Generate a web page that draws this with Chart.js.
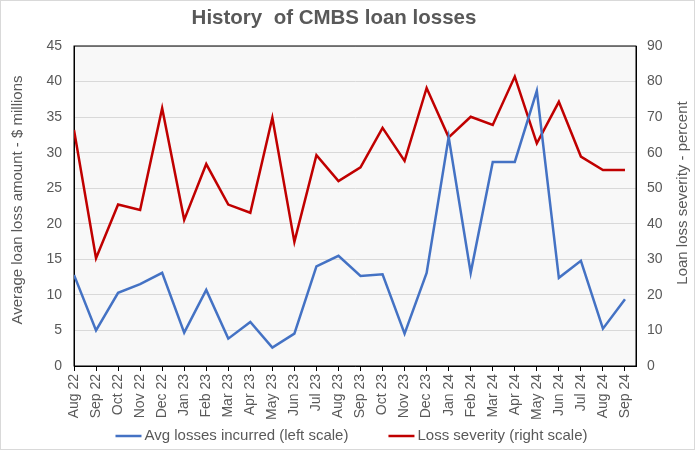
<!DOCTYPE html>
<html lang="en">
<head>
    <meta charset="UTF-8">
    <title>History of CMBS loan losses</title>
    <script src="https://cdn.jsdelivr.net/npm/chart.js@4.4.1/dist/chart.umd.min.js"></script>
    <style>
        body { margin: 0; background: #fff; }
        #wrap { width: 695px; height: 450px; }
    </style>
</head>
<body>
    <div id="wrap">
        <canvas id="loss-chart" width="695" height="450"></canvas>
    </div>

    <script>
        var months = ['Aug 22', 'Sep 22', 'Oct 22', 'Nov 22', 'Dec 22', 'Jan 23', 'Feb 23', 'Mar 23', 'Apr 23',
            'May 23', 'Jun 23', 'Jul 23', 'Aug 23', 'Sep 23', 'Oct 23', 'Nov 23', 'Dec 23', 'Jan 24',
            'Feb 24', 'Mar 24', 'Apr 24', 'May 24', 'Jun 24', 'Jul 24', 'Aug 24', 'Sep 24'];

        // $ millions, left scale
        var avgLosses = [12.8, 5.0, 10.3, 11.5, 13.1, 4.7, 10.7, 3.85, 6.2, 2.6, 4.55, 14.0, 15.5,
            12.65, 12.9, 4.55, 13.1, 32.2, 13.1, 28.7, 28.7, 38.7, 12.4, 14.8, 5.25, 9.4];

        // percent, right scale
        var severity = [66.4, 30.3, 45.4, 43.9, 72.5, 41.1, 56.8, 45.4, 43.1, 69.8, 34.9, 59.3, 52.0,
            55.9, 67.0, 57.7, 78.2, 64.3, 70.1, 67.8, 81.4, 62.6, 74.3, 58.9, 55.1, 55.1];

        var leftTicks = [0, 5, 10, 15, 20, 25, 30, 35, 40, 45];
        var rightTicks = [0, 10, 20, 30, 40, 50, 60, 70, 80, 90];

        var chartTitle = 'History  of CMBS loan losses';
        var leftTitle = 'Average loan loss amount - $ millions';
        var rightTitle = 'Loan loss severity - percent';

        function toPoints(arr) {
            return arr.map(function (v, i) { return { x: i, y: v }; });
        }

        var grey = '#595959';
        var font = 'Arial, "Liberation Sans", sans-serif';

        // plot background, outer frame, black box round the plot, titles, legend
        var framePlugin = {
            id: 'frame',
            beforeDraw: function (chart) {
                var c = chart.ctx, a = chart.chartArea;
                c.save();
                c.fillStyle = '#fff';
                c.fillRect(0, 0, chart.width, chart.height);
                c.fillStyle = '#f8f8f8';
                c.fillRect(a.left, a.top, a.right - a.left, a.bottom - a.top);
                c.strokeStyle = '#d9d9d9';
                c.lineWidth = 1;
                c.strokeRect(0.5, 0.5, chart.width - 1, chart.height - 1);
                c.restore();
            },
            beforeDatasetsDraw: function (chart) {
                var c = chart.ctx, a = chart.chartArea;
                c.save();
                c.strokeStyle = '#000';
                c.lineWidth = 1;
                c.strokeRect(a.left, a.top, a.right - a.left, a.bottom - a.top);
                c.restore();
            },
            afterDraw: function (chart) {
                var c = chart.ctx;
                c.save();
                c.fillStyle = grey;
                c.textAlign = 'center';
                c.textBaseline = 'middle';

                c.font = 'bold 20.5px ' + font;
                c.fillText(chartTitle, 334, 18);

                c.font = '15px ' + font;
                c.translate(18, 200);
                c.rotate(-Math.PI / 2);
                c.fillText(leftTitle, 0, 0);
                c.restore();

                c.save();
                c.fillStyle = grey;
                c.textAlign = 'center';
                c.textBaseline = 'middle';
                c.font = '15px ' + font;
                c.translate(683, 193);
                c.rotate(-Math.PI / 2);
                c.fillText(rightTitle, 0, 0);
                c.restore();

                // legend
                c.save();
                c.font = '15px ' + font;
                c.textAlign = 'left';
                c.textBaseline = 'middle';
                var sets = chart.data.datasets;
                var lineW = 26, gapText = 3, gapItem = 40;
                var total = 0;
                sets.forEach(function (d, i) {
                    total += lineW + gapText + c.measureText(d.label).width;
                    if (i > 0) total += gapItem;
                });
                var x = 351.5 - total / 2, y = 436;
                sets.forEach(function (d) {
                    c.strokeStyle = d.borderColor;
                    c.lineWidth = d.borderWidth;
                    c.beginPath();
                    c.moveTo(x, y);
                    c.lineTo(x + lineW, y);
                    c.stroke();
                    x += lineW + gapText;
                    c.fillStyle = grey;
                    c.fillText(d.label, x, y);
                    x += c.measureText(d.label).width + gapItem;
                });
                c.restore();
            }
        };

        var ctx = document.getElementById('loss-chart').getContext('2d');
        var chart = new Chart(ctx, {
            type: 'line',
            data: {
                datasets: [{
                    label: 'Avg losses incurred (left scale)',
                    data: toPoints(avgLosses),
                    borderColor: '#4472c4',
                    backgroundColor: '#4472c4',
                    borderWidth: 2.5,
                    pointRadius: 0,
                    yAxisID: 'y'
                }, {
                    label: 'Loss severity (right scale)',
                    data: toPoints(severity),
                    borderColor: '#c00000',
                    backgroundColor: '#c00000',
                    borderWidth: 2.5,
                    pointRadius: 0,
                    yAxisID: 'y2'
                }]
            },
            plugins: [framePlugin],
            options: {
                responsive: false,
                animation: false,
                devicePixelRatio: 1,
                layout: { padding: { left: 0, right: 0, top: 46, bottom: 0 } },
                plugins: {
                    title: { display: false },
                    legend: { display: false },
                    tooltip: { enabled: false }
                },
                scales: {
                    x: {
                        type: 'linear',
                        min: 0,
                        max: months.length - 0.5,
                        afterFit: function (s) { s.height = 84; },
                        afterBuildTicks: function (s) {
                            s.ticks = months.map(function (m, i) { return { value: i }; });
                        },
                        ticks: {
                            autoSkip: false,
                            maxRotation: 90,
                            minRotation: 90,
                            color: grey,
                            font: { family: font, size: 14 },
                            padding: 3,
                            callback: function (v) { return months[v]; }
                        },
                        grid: {
                            drawOnChartArea: false,
                            drawTicks: true,
                            tickLength: 5,
                            color: '#000'
                        },
                        border: { display: true, color: '#000' }
                    },
                    y: {
                        position: 'left',
                        min: 0,
                        max: 45,
                        afterFit: function (s) { s.width = 74; },
                        afterBuildTicks: function (s) {
                            s.ticks = leftTicks.map(function (v) { return { value: v }; });
                        },
                        ticks: {
                            color: grey,
                            font: { family: font, size: 14 },
                            padding: 12
                        },
                        grid: { color: '#d9d9d9', drawTicks: false },
                        border: { display: true, color: '#000' }
                    },
                    y2: {
                        position: 'right',
                        min: 0,
                        max: 90,
                        afterFit: function (s) { s.width = 59; },
                        afterBuildTicks: function (s) {
                            s.ticks = rightTicks.map(function (v) { return { value: v }; });
                        },
                        ticks: {
                            color: grey,
                            font: { family: font, size: 14 },
                            padding: 11
                        },
                        grid: { drawOnChartArea: false, drawTicks: false },
                        border: { display: true, color: '#000' }
                    }
                }
            }
        });
    </script>
</body>
</html>
